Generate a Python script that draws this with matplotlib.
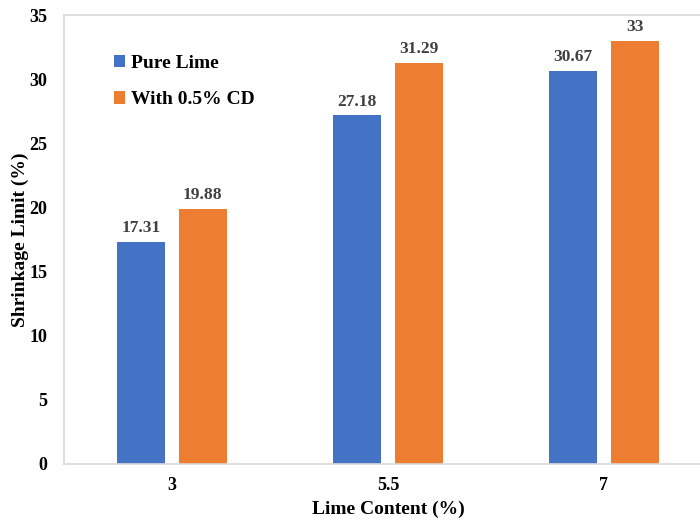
import numpy as np
import matplotlib.pyplot as plt

# Shrinkage limit vs lime content
lime_content = ['3', '5.5', '7']
pure_lime = [17.31, 27.18, 30.67]
with_cd = [19.88, 31.29, 33]
value_labels_pure = ['17.31', '27.18', '30.67']
value_labels_cd = ['19.88', '31.29', '33']

plt.rcParams['font.family'] = ['Liberation Serif', 'DejaVu Serif']
plt.rcParams['font.weight'] = 'bold'

blue = '#4472C4'
orange = '#ED7D31'

fig = plt.figure(figsize=(7, 5.2), dpi=100)
ax = fig.add_axes([64/700, 56/520, 648/700, 449/520])

x = np.arange(len(lime_content))
w = 0.222
off = 0.143
b1 = ax.bar(x - off, pure_lime, w, color=blue, label='Pure Lime')
b2 = ax.bar(x + off, with_cd, w, color=orange, label='With 0.5% CD')

for bars, labels in ((b1, value_labels_pure), (b2, value_labels_cd)):
    for rect, lab in zip(bars, labels):
        ax.annotate(lab, (rect.get_x() + rect.get_width()/2, rect.get_height()),
                    xytext=(0, 4), textcoords='offset points', ha='center', va='bottom',
                    fontsize=12.5, fontweight='bold', color='#404040')

ax.set_xlim(-0.5, 2.5)
ax.set_ylim(0, 35)
ax.set_yticks(np.arange(0, 36, 5))
ax.set_xticks(x)
ax.set_xticklabels(lime_content)
ax.tick_params(length=0, labelsize=13, pad=9)
ax.tick_params(axis='y', pad=12)
for lbl in ax.get_xticklabels() + ax.get_yticklabels():
    lbl.set_fontweight('bold')

for side in ('left', 'top', 'bottom', 'right'):
    ax.spines[side].set_color('#d9d9d9')
    ax.spines[side].set_linewidth(1.2)

ax.set_xlabel('Lime Content (%)', fontsize=14, fontweight='bold', labelpad=5)
ax.set_ylabel('Shrinkage Limit (%)', fontsize=14, fontweight='bold', labelpad=0)

ax.legend(loc='upper left', bbox_to_anchor=(0.05, 0.95), frameon=False,
          handlelength=0.55, handleheight=0.6, handletextpad=0.35,
          labelspacing=1.0, prop={'size': 14, 'weight': 'bold'})

fig.savefig('out.png', dpi=100)
